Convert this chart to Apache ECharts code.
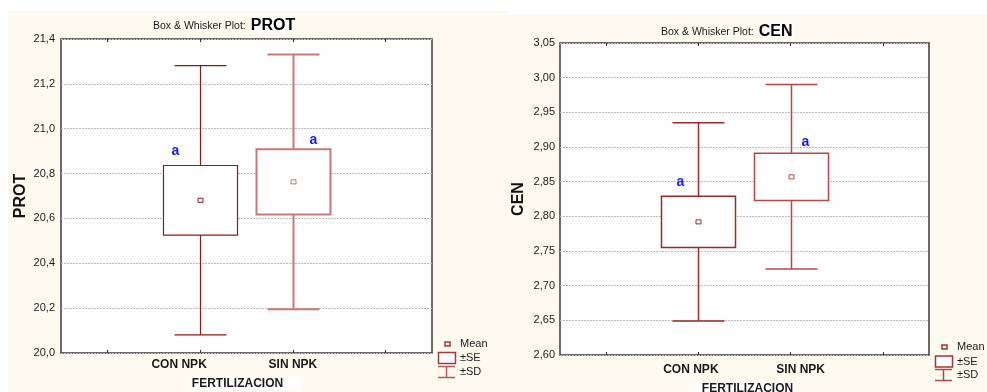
<!DOCTYPE html>
<html>
<head>
<meta charset="utf-8">
<title>Box & Whisker Plot: PROT / CEN</title>
<script src="https://cdn.jsdelivr.net/npm/echarts@6/dist/echarts.min.js"></script>
<style>
  html, body { margin: 0; padding: 0; background: #ffffff; }
  #chart { width: 987px; height: 392px; }
</style>
</head>
<body>
<div id="chart"></div>
<script>
// Category slots on the x axis (outer slots are empty padding positions)
const categories = ['', 'CON NPK', 'SIN NPK', ''];
const groupIndex = [1, 2];            // slots holding the two fertilization groups

// PROT: mean, standard error, standard deviation per group
const protMean = [20.681, 20.763];
const protSE   = [0.155, 0.145];
const protSD   = [0.600, 0.568];
const protLetters = ['a', 'a'];
const protTicks = [20.0, 20.2, 20.4, 20.6, 20.8, 21.0, 21.2, 21.4];

// CEN: mean, standard error, standard deviation per group
const cenMean = [2.792, 2.857];
const cenSE   = [0.037, 0.034];
const cenSD   = [0.143, 0.133];
const cenLetters = ['a', 'a'];
const cenTicks = [2.60, 2.65, 2.70, 2.75, 2.80, 2.85, 2.90, 2.95, 3.00, 3.05];

const FONT = '"Liberation Sans", Arial, sans-serif';
const CREAM = '#fdfbf0';

// rows: [slot, mean, se, sd]
function rows(mean, se, sd) {
  return groupIndex.map((g, i) => [g, mean[i], se[i], sd[i]]);
}

// Box = mean ± SE, whiskers = mean ± SD, small square = mean, letter above the box
function makeRenderer(letters, strokes, widths, letterOffsets) {
  return function (params, api) {
    const i = params.dataIndex;
    const slot = api.value(0), mean = api.value(1), se = api.value(2), sd = api.value(3);
    const cx = Math.round(api.coord([slot, mean])[0]) + 0.5;
    const yMean = api.coord([slot, mean])[1];
    const ySdHi = api.coord([slot, mean + sd])[1];
    const ySdLo = api.coord([slot, mean - sd])[1];
    const ySeHi = api.coord([slot, mean + se])[1];
    const ySeLo = api.coord([slot, mean - se])[1];
    const boxHalf = 37, capHalf = 26;
    const st = { stroke: strokes[i], lineWidth: widths[i], fill: null };
    const off = letterOffsets[i];
    return {
      type: 'group',
      children: [
        { type: 'line', shape: { x1: cx, y1: ySdHi, x2: cx, y2: ySeHi }, style: st },
        { type: 'line', shape: { x1: cx, y1: ySeLo, x2: cx, y2: ySdLo }, style: st },
        { type: 'line', shape: { x1: cx - capHalf, y1: ySdHi, x2: cx + capHalf, y2: ySdHi }, style: st },
        { type: 'line', shape: { x1: cx - capHalf, y1: ySdLo, x2: cx + capHalf, y2: ySdLo }, style: st },
        { type: 'rect', shape: { x: cx - boxHalf, y: ySeHi, width: boxHalf * 2, height: ySeLo - ySeHi },
          style: { stroke: strokes[i], lineWidth: widths[i], fill: '#ffffff' } },
        { type: 'rect', shape: { x: cx - 2.5, y: yMean - 2, width: 5, height: 4 },
          style: { stroke: strokes[i], lineWidth: 1, fill: null } },
        { type: 'text', x: cx + off[0], y: ySeHi + off[1],
          style: { text: letters[i], fill: '#1a1aff', font: 'bold 14px ' + FONT, align: 'center', verticalAlign: 'middle' } }
      ]
    };
  };
}

const fmt = d => v => v.toFixed(d).replace('.', ',');

function gridAxes(gi, yMin, yMax, yStep, decimals, yName, yLabelMargin, xLabelMargin, xLabelRich, xNameGap, xNamePad, yNameGap) {
  return {
    xBottom: {
      type: 'category', gridIndex: gi, data: categories, boundaryGap: true,
      axisLine: { show: false },
      axisTick: { show: true, inside: true, alignWithLabel: true, interval: 0, length: 3, lineStyle: { color: '#333' } },
      axisLabel: {
        interval: 0, margin: xLabelMargin, color: '#1a1a1a',
        fontFamily: FONT, fontWeight: 'bold', fontSize: 12,
        formatter: (v, idx) => v ? '{c' + idx + '|' + v + '}' : '',
        rich: xLabelRich
      },
      name: 'FERTILIZACION', nameLocation: 'middle', nameGap: xNameGap,
      nameTextStyle: { fontFamily: FONT, fontWeight: 'bold', fontSize: 12, color: '#1a1a1a', padding: xNamePad, backgroundColor: '#ffffff' }
    },
    xTop: {
      type: 'category', gridIndex: gi, data: categories, position: 'top', boundaryGap: true,
      axisLine: { show: false }, axisLabel: { show: false },
      axisTick: { show: true, inside: true, alignWithLabel: true, interval: 0, length: 3, lineStyle: { color: '#333' } }
    },
    y: {
      type: 'value', gridIndex: gi, min: yMin, max: yMax, interval: yStep,
      axisLine: { show: false }, axisTick: { show: false },
      axisLabel: { formatter: fmt(decimals), margin: yLabelMargin, color: '#1a1a1a', fontFamily: FONT, fontSize: 11 },
      splitLine: { show: true, lineStyle: { color: '#bdbdbd', type: [2, 1], width: 1 } },
      name: yName, nameLocation: 'middle', nameGap: yNameGap, nameRotate: 90,
      nameTextStyle: { fontFamily: FONT, fontWeight: 'bold', fontSize: 16, color: '#111' }
    }
  };
}

const L = gridAxes(0, protTicks[0], protTicks[protTicks.length - 1], 0.2, 1, 'PROT', 6, 6,
  { c1: { padding: [0, 42, 0, 0] }, c2: { padding: [0, 0, 0, 0] } }, 22, [2, 18, 0, 0], 32);
const R = gridAxes(1, cenTicks[0], cenTicks[cenTicks.length - 1], 0.05, 2, 'CEN', 5, 9,
  { c1: { padding: [0, 15, 0, 0] }, c2: { padding: [0, 0, 0, 20] } }, 21, [2, 0, 0, 6], 33);

const chart = echarts.init(document.getElementById('chart'), null, { renderer: 'canvas' });

function legendGraphics(x0, yMean, yBox, ySd, colMain, colSd) {
  const t = (txt, y) => ({ type: 'text', x: x0 + 22, y: y,
    style: { text: txt, font: '11px ' + FONT, fill: '#1a1a1a', verticalAlign: 'middle' } });
  return [
    { type: 'rect', shape: { x: x0 + 7, y: yMean - 2, width: 5, height: 4 }, style: { stroke: colMain, lineWidth: 1.5, fill: null } },
    t('Mean', yMean),
    { type: 'rect', shape: { x: x0 + 0.5, y: yBox - 5.5, width: 17, height: 11 }, style: { stroke: colMain, lineWidth: 1.5, fill: '#ffffff' } },
    t('±SE', yBox),
    { type: 'line', shape: { x1: x0, y1: ySd - 5.5, x2: x0 + 17, y2: ySd - 5.5 }, style: { stroke: colSd, lineWidth: 1.5 } },
    { type: 'line', shape: { x1: x0 + 8.5, y1: ySd - 5.5, x2: x0 + 8.5, y2: ySd + 5.5 }, style: { stroke: colSd, lineWidth: 1.5 } },
    { type: 'line', shape: { x1: x0, y1: ySd + 5.5, x2: x0 + 17, y2: ySd + 5.5 }, style: { stroke: colSd, lineWidth: 1.5 } },
    t('±SD', ySd)
  ];
}

const titleRich = {
  s: { fontFamily: FONT, fontSize: 10.5, fontWeight: 'normal', color: '#1a1a1a', verticalAlign: 'middle' },
  b: { fontFamily: FONT, fontSize: 16, fontWeight: 'bold', color: '#000', backgroundColor: '#ffffff', verticalAlign: 'middle' }
};

chart.setOption({
  animation: false,
  backgroundColor: '#ffffff',
  graphic: [
    { type: 'rect', z: -10, silent: true, shape: { x: 8, y: 11, width: 498, height: 381 }, style: { fill: CREAM } },
    { type: 'rect', z: -10, silent: true, shape: { x: 506, y: 15, width: 481, height: 377 }, style: { fill: CREAM } },
    ...legendGraphics(438, 344, 358, 372, '#a33a3a', '#b45a5a'),
    ...legendGraphics(935, 347, 361.5, 375, '#a83232', '#b04848')
  ],
  title: [
    { left: 153, top: 17, padding: 0, text: '{s|Box & Whisker Plot:} {b|PROT}', textStyle: { fontWeight: 'normal', rich: titleRich } },
    { left: 661, top: 23, padding: 0, text: '{s|Box & Whisker Plot:} {b|CEN}', textStyle: { fontWeight: 'normal', rich: titleRich } }
  ],
  grid: [
    { left: 61, top: 39, width: 371, height: 314, show: true, outerBoundsMode: 'none', containLabel: false,
      backgroundColor: '#fefefe', borderColor: '#3a3a3a', borderWidth: 1.5 },
    { left: 560, top: 43, width: 369, height: 312, show: true, outerBoundsMode: 'none', containLabel: false,
      backgroundColor: '#fefefe', borderColor: '#3a3a3a', borderWidth: 1.5 }
  ],
  xAxis: [L.xBottom, L.xTop, R.xBottom, R.xTop],
  yAxis: [L.y, R.y],
  series: [
    {
      type: 'custom', xAxisIndex: 0, yAxisIndex: 0, encode: { x: 0, y: 1 },
      data: rows(protMean, protSE, protSD),
      renderItem: makeRenderer(protLetters, ['#8b1a1a', '#c27a7a'], [1.2, 2], [[-25, -14], [20, -9]])
    },
    {
      type: 'custom', xAxisIndex: 2, yAxisIndex: 1, encode: { x: 0, y: 1 },
      data: rows(cenMean, cenSE, cenSD),
      renderItem: makeRenderer(cenLetters, ['#9a2a2a', '#b84848'], [1.5, 1.5], [[-18, -14], [14, -11]])
    }
  ]
});
</script>
</body>
</html>
